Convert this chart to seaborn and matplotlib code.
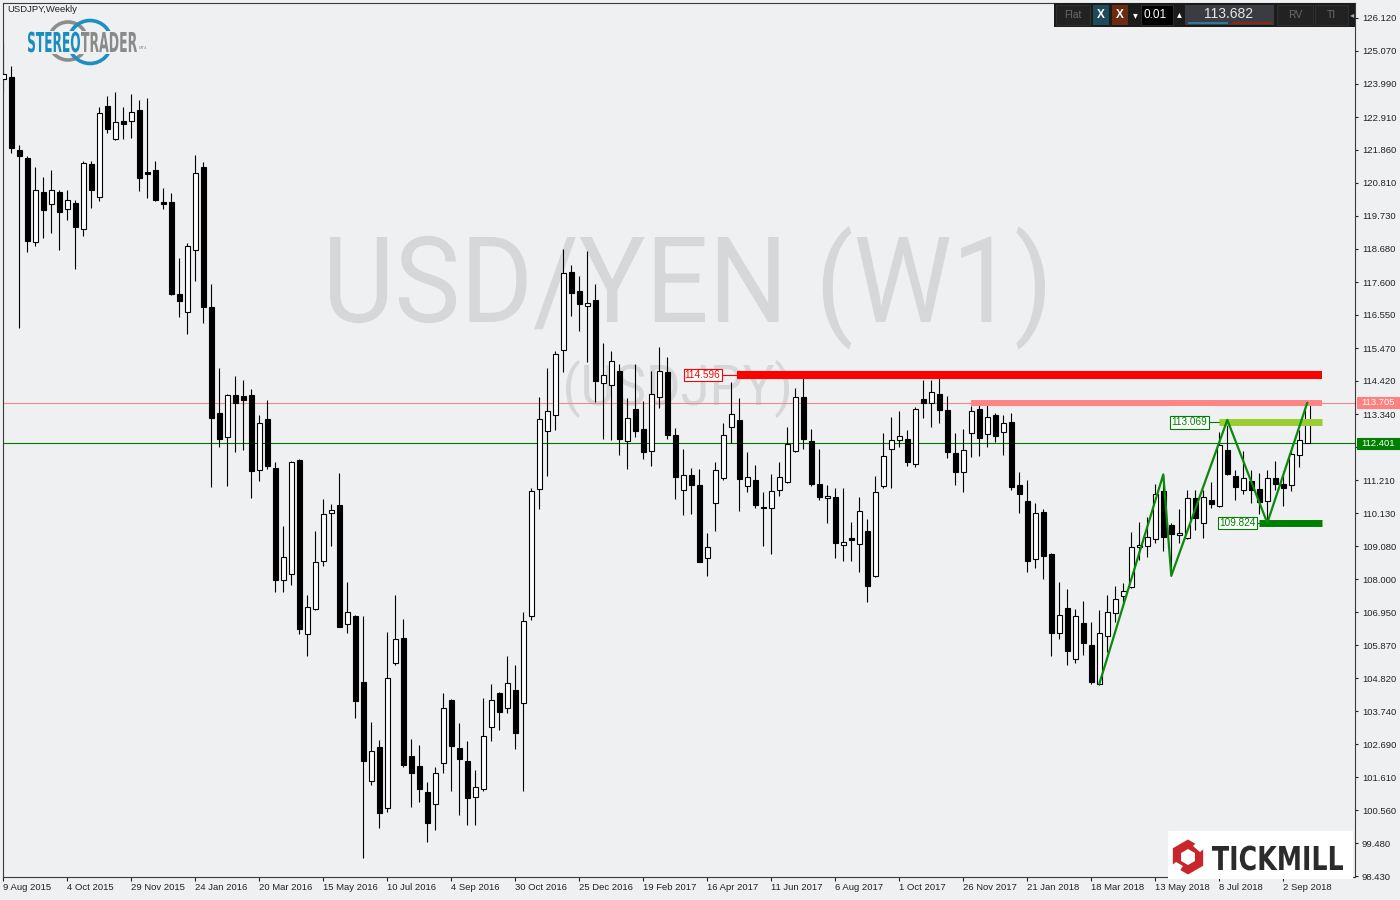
import numpy as np
import matplotlib
matplotlib.use("Agg")
import matplotlib.pyplot as plt
import seaborn as sns
from matplotlib.patches import Rectangle, PathPatch, Circle, RegularPolygon, Polygon
from matplotlib.textpath import TextPath
from matplotlib.font_manager import FontProperties
from matplotlib.transforms import Affine2D

# weekly USDJPY candles, week of 9 Aug 2015 .. week of 23 Sep 2018
opens = [124.15, 124.21, 121.86, 121.60, 118.90, 120.49, 120.11, 120.49, 119.95, 120.15,
         119.32, 121.40, 120.33, 123.27, 122.21, 122.80, 122.79, 123.15, 121.14, 121.22,
         120.18, 120.18, 117.21, 116.64, 118.62, 121.32, 116.80, 113.36, 112.59, 113.95,
         113.92, 113.95, 111.52, 113.17, 111.59, 107.97, 108.17, 111.86, 106.23, 107.05,
         108.60, 110.14, 110.40, 106.55, 106.82, 104.68, 101.51, 102.59, 100.62, 105.31,
         106.11, 102.30, 101.97, 101.13, 100.74, 102.07, 104.11, 102.55, 102.14, 100.97,
         101.23, 103.23, 104.33, 103.84, 104.42, 104.02, 106.83, 110.91, 112.78, 113.30,
         115.39, 117.91, 117.30, 116.84, 117.01, 114.33, 114.27, 114.73, 112.46, 113.50,
         112.86, 112.14, 113.88, 114.70, 112.66, 110.88, 111.36, 111.04, 108.68, 110.48,
         111.26, 112.91, 113.14, 111.01, 111.21, 110.35, 110.30, 110.88, 111.14, 112.14,
         113.89, 112.47, 111.08, 110.62, 110.65, 109.10, 109.34, 109.13, 109.55, 108.10,
         111.01, 112.20, 112.49, 112.52, 111.74, 113.81, 113.70, 113.99, 113.46, 112.07,
         111.46, 112.72, 113.49, 112.68, 113.30, 112.75, 113.07, 111.04, 110.52, 108.65,
         110.17, 108.81, 106.26, 107.07, 105.42, 106.59, 105.88, 104.63, 106.17, 106.91,
         107.47, 107.75, 109.05, 109.08, 109.29, 110.85, 109.75, 109.43, 109.33, 110.62,
         109.81, 110.55, 110.38, 112.18, 111.34, 110.89, 111.18, 110.92, 110.54, 111.26,
         111.07, 111.04, 112.01, 112.40]
highs = [125.31, 124.57, 122.02, 121.67, 121.32, 121.00, 121.22, 120.56, 120.57, 120.25,
         121.52, 121.52, 123.24, 123.61, 123.73, 123.25, 123.68, 123.48, 123.54, 121.50,
         120.63, 120.47, 118.37, 118.86, 121.70, 121.48, 117.54, 114.84, 113.99, 114.58,
         114.44, 114.15, 113.31, 113.79, 111.79, 109.73, 111.82, 111.89, 107.50, 109.57,
         110.60, 110.43, 111.43, 107.92, 106.85, 106.82, 103.39, 102.82, 106.30, 107.50,
         106.72, 102.85, 102.66, 101.47, 101.95, 104.33, 104.14, 103.37, 102.79, 101.85,
         104.17, 104.63, 104.36, 105.53, 105.24, 106.95, 110.95, 113.89, 114.83, 115.36,
         118.66, 118.16, 117.79, 118.60, 117.53, 115.63, 115.37, 114.95, 113.86, 114.95,
         113.76, 114.73, 115.50, 115.18, 112.88, 112.21, 111.60, 111.57, 109.50, 111.80,
         113.04, 114.38, 113.85, 112.11, 111.69, 110.82, 111.40, 111.79, 112.92, 114.17,
         114.50, 112.85, 112.21, 111.06, 110.95, 110.95, 109.85, 110.66, 109.94, 111.34,
         112.72, 113.24, 113.44, 112.83, 113.57, 114.44, 114.44, 114.73, 113.92, 112.73,
         112.86, 113.60, 113.76, 113.63, 113.36, 113.30, 113.36, 111.47, 111.20, 110.46,
         110.27, 108.86, 107.92, 107.69, 107.05, 107.31, 106.63, 107.02, 107.50, 107.79,
         107.87, 109.53, 109.85, 110.03, 111.07, 111.39, 109.83, 110.28, 110.89, 110.89,
         110.89, 111.14, 112.77, 113.15, 111.53, 112.14, 111.53, 111.45, 111.53, 111.83,
         111.50, 112.18, 112.82, 113.705]
lows = [123.74, 121.76, 116.13, 118.58, 118.76, 119.02, 119.18, 118.64, 119.60, 118.02,
        119.10, 120.00, 120.23, 122.42, 122.18, 122.21, 122.26, 120.54, 120.32, 120.23,
        119.97, 117.18, 116.48, 115.93, 117.64, 116.27, 110.97, 112.28, 111.03, 112.12,
        112.18, 110.64, 111.19, 111.58, 107.58, 107.61, 107.83, 106.24, 105.54, 107.03,
        108.44, 109.09, 106.46, 106.26, 103.54, 99.00, 101.38, 99.99, 100.49, 105.25,
        101.96, 100.67, 100.83, 99.54, 99.92, 101.75, 101.18, 100.41, 100.08, 100.08,
        101.18, 102.80, 103.15, 103.70, 102.54, 101.18, 106.70, 110.27, 111.35, 112.83,
        114.71, 116.51, 116.03, 115.03, 113.73, 112.53, 112.50, 112.02, 111.58, 112.61,
        111.90, 111.67, 113.54, 112.54, 110.60, 110.09, 110.12, 108.55, 108.12, 109.57,
        111.20, 112.42, 110.22, 110.82, 110.32, 109.09, 108.81, 110.70, 111.10, 112.10,
        112.21, 111.03, 110.56, 109.83, 108.70, 108.60, 108.61, 108.25, 107.28, 108.08,
        110.95, 110.96, 112.29, 111.67, 111.64, 113.22, 112.93, 113.06, 111.93, 111.06,
        110.83, 111.96, 111.99, 112.29, 112.45, 112.03, 110.90, 110.15, 108.25, 108.38,
        108.02, 105.54, 106.09, 105.23, 105.31, 105.57, 104.62, 104.61, 105.65, 106.62,
        107.23, 107.72, 108.64, 108.74, 109.17, 108.93, 108.12, 109.19, 109.30, 109.60,
        109.35, 110.30, 110.35, 111.36, 110.57, 110.75, 110.46, 110.10, 109.82, 110.89,
        110.37, 110.85, 111.64, 112.40]
closes = [124.31, 121.91, 121.68, 118.93, 120.56, 119.93, 120.56, 119.87, 120.24, 119.39,
          121.44, 120.57, 123.04, 122.55, 122.75, 122.71, 123.08, 120.97, 121.10, 120.25,
          120.13, 117.20, 117.00, 118.75, 121.11, 116.78, 113.20, 112.54, 113.94, 113.70,
          113.80, 111.51, 113.04, 111.66, 107.99, 108.71, 111.79, 106.41, 107.10, 108.55,
          110.10, 110.23, 106.48, 106.94, 104.09, 102.15, 102.45, 100.47, 104.81, 106.07,
          102.01, 101.76, 101.25, 100.15, 101.77, 103.84, 102.64, 102.22, 100.96, 101.29,
          102.94, 104.10, 103.73, 104.65, 103.06, 106.65, 110.86, 113.17, 113.43, 115.27,
          117.88, 117.26, 116.90, 116.91, 114.41, 114.59, 115.04, 112.54, 113.20, 112.80,
          112.12, 113.98, 114.72, 112.67, 111.32, 111.36, 111.06, 108.57, 109.04, 111.52,
          112.65, 113.33, 111.25, 111.31, 110.41, 110.32, 110.84, 111.31, 112.38, 113.88,
          112.52, 111.09, 110.67, 110.70, 109.17, 109.21, 109.28, 110.22, 107.80, 110.81,
          111.98, 112.49, 112.62, 111.80, 113.49, 113.70, 114.04, 113.48, 112.12, 111.48,
          112.17, 113.43, 112.57, 113.23, 112.64, 113.04, 110.99, 110.77, 108.61, 110.13,
          108.77, 106.28, 106.84, 105.70, 106.81, 105.96, 104.70, 106.26, 106.94, 107.37,
          107.62, 109.04, 109.12, 109.37, 110.75, 109.38, 109.48, 109.49, 110.62, 109.97,
          110.67, 110.44, 112.34, 111.41, 110.99, 111.26, 110.90, 110.50, 111.26, 111.07,
          110.94, 112.04, 112.50, 113.682]

date_labels = ["9 Aug 2015", "4 Oct 2015", "29 Nov 2015", "24 Jan 2016", "20 Mar 2016",
               "15 May 2016", "10 Jul 2016", "4 Sep 2016", "30 Oct 2016", "25 Dec 2016",
               "19 Feb 2017", "16 Apr 2017", "11 Jun 2017", "6 Aug 2017", "1 Oct 2017",
               "26 Nov 2017", "21 Jan 2018", "18 Mar 2018", "13 May 2018", "8 Jul 2018",
               "2 Sep 2018"]
price_ticks = [126.120, 125.070, 123.990, 122.910, 121.860, 120.810, 119.730, 118.680,
               117.600, 116.550, 115.470, 114.420, 113.340, 112.290, 111.210, 110.130,
               109.080, 108.000, 106.950, 105.870, 104.820, 103.740, 102.690, 101.610,
               100.560, 99.480, 98.430]

ask_price = 113.705
line_price = 112.401
toolbar_price = "113.682"

# horizontal zones: price, first candle index
level_prices = [114.596, 113.705, 113.069, 109.824]
level_start = [91.7, 121.0, 151.96, 156.96]
level_labels = ["114.596", None, "113.069", "109.824"]

zigzag_idx = [137, 145, 146, 153, 158, 163]
zigzag_price = [104.63, 111.39, 108.12, 113.15, 109.824, 113.705]

BG = "#eff0f2"
W, H = 1400, 900

sns.set_style("white", {"axes.facecolor": BG, "figure.facecolor": BG,
                        "axes.edgecolor": "#3a3a3a"})
plt.rcParams["font.family"] = ["Liberation Sans", "DejaVu Sans"]


def path_text(axis, s, x_left, x_right, y_base, cap, color, weight="normal", z=3,
              family="DejaVu Sans"):
    """Draw s as a filled path stretched to a given width and cap height (pixel axes)."""
    fp = FontProperties(family=family, weight=weight)
    tp = TextPath((0, 0), s, size=100, prop=fp)
    ext = tp.get_extents()
    cap_h = TextPath((0, 0), "H", size=100, prop=fp).get_extents().height
    sx = (x_right - x_left) / ext.width
    sy = cap / cap_h
    tr = Affine2D().translate(-ext.x0, 0).scale(sx, -sy).translate(x_left, y_base)
    axis.add_patch(PathPatch(tr.transform_path(tp), fc=color, ec="none", lw=0, zorder=z))


fig = plt.figure(figsize=(14, 9), dpi=100)

# background layer in pixel units (watermark)
bg = fig.add_axes([0, 0, 1, 1], label="bg", zorder=0)
bg.set_xlim(0, W)
bg.set_ylim(H, 0)
bg.axis("off")
path_text(bg, "USD/YEN (W1)", 330, 1045, 322, 85, "#d5d7d9", family="Roboto")
path_text(bg, "(USDJPY)", 566, 789, 405, 40, "#d5d7d9", family="Roboto")

# main price panel
ax = fig.add_axes([2.5 / W, 1 - 877 / H, (1355 - 2.5) / W, (877 - 3) / H], label="main", zorder=1)
ax.set_facecolor("none")

o = np.array(opens)
hi = np.array(highs)
lo = np.array(lows)
c = np.array(closes)
x = np.arange(len(o))
up = c >= o
body_bottom = np.minimum(o, c)
body_h = np.maximum(np.abs(c - o), 0.03)

ax.vlines(x, lo, hi, color="black", lw=0.8, zorder=2)
ax.bar(x[up], body_h[up], bottom=body_bottom[up], width=0.62, color="white",
       edgecolor="black", linewidth=0.8, zorder=3)
ax.bar(x[~up], body_h[~up], bottom=body_bottom[~up], width=0.62, color="black",
       edgecolor="black", linewidth=0.8, zorder=3)

# 8 px per weekly bar, first bar at 3.3 px
ax.set_xlim((2.5 - 3.3) / 8, (1355 - 3.3) / 8)
ax.set_ylim(98.398, 126.604)

ax.axhline(ask_price, color="#f08a8a", lw=0.8, zorder=1)
ax.axhline(line_price, color="#007800", lw=0.8, zorder=1)

band_end = 164.84
band_colors = ["#ff0000", "#ff8585", "#9acd32", "#008000"]
band_width = [5.8, 4.3, 5.0, 5.0]
label_colors = ["#ff0000", None, "#008000", "#008000"]
label_gap = [1.9, 0, 1.3, 0.3]
for p, s0, lab, col, lw, lcol, gap in zip(level_prices, level_start, level_labels, band_colors,
                                         band_width, label_colors, label_gap):
    ax.plot([s0, band_end], [p, p], color=col, lw=lw, solid_capstyle="butt", zorder=4)
    if lab is not None:
        ax.plot([s0 - gap, s0], [p, p], color=lcol, lw=0.8, zorder=4)
        ax.text(s0 - gap - 0.15, p, lab, ha="right", va="center", color=lcol, fontsize=7.2,
                zorder=6, bbox=dict(boxstyle="square,pad=0.12", fc="white", ec=lcol, lw=0.8))

sns.lineplot(x=zigzag_idx, y=zigzag_price, ax=ax, color="#0a8a0a", lw=1.6, sort=False,
             estimator=None, zorder=5)

ax.yaxis.tick_right()
ax.set_yticks(price_ticks)
ax.set_yticklabels([f"{p:.3f}" for p in price_ticks])
ax.tick_params(axis="y", direction="out", length=2.5, width=0.8, pad=2.5, labelsize=6.8,
               colors="#222222", right=True, left=False)
ax.set_xticks(np.arange(0, 8 * len(date_labels), 8))
ax.set_xticklabels(date_labels, ha="left")
ax.tick_params(axis="x", direction="out", length=2.9, width=0.8, pad=1.2, labelsize=6.8,
               colors="#222222", bottom=True)
ax.set_xlabel("")
ax.set_ylabel("")
for sp in ax.spines.values():
    sp.set_visible(True)
    sp.set_color("#3a3a3a")
    sp.set_linewidth(0.8)

# overlay in pixel units: labels, toolbar, logos
ov = fig.add_axes([0, 0, 1, 1], label="overlay", zorder=2)
ov.set_xlim(0, W)
ov.set_ylim(H, 0)
ov.axis("off")
ov.patch.set_alpha(0)


def px_y(price):
    return H - ax.transData.transform((0, price))[1]


for p, fc in [(ask_price, "#ff8080"), (line_price, "#008000")]:
    yy = px_y(p)
    ov.add_patch(Rectangle((1357, yy - 5.5), 43, 11, fc=fc, ec=fc, lw=0.8, zorder=5))
    ov.text(1361, yy, f"{p:.3f}", ha="left", va="center", color="white", fontsize=6.8, zorder=6)

ov.text(7, 10, "USDJPY,Weekly", ha="left", va="center", fontsize=6.8, color="#222222")

# StereoTrader logo
ov.add_patch(Circle((68, 41), 19, fc="none", ec="#8d8d8d", lw=2.6))
ov.add_patch(Circle((90, 42), 21.5, fc="none", ec="#1b8ec2", lw=2.6))
ov.add_patch(Rectangle((25, 30.5), 125, 23, fc=BG, ec="none", zorder=2))
path_text(ov, "STEREO", 28, 80, 52, 20, "#1a8cc0", weight="bold")
path_text(ov, "TRADER", 81, 137, 52, 20, "#8a8a8a", weight="bold")
ov.text(139, 48, "MT4", fontsize=3, color="#8a8a8a", va="center", ha="left")

# Tickmill logo
ov.add_patch(Rectangle((1168, 831), 185, 48, fc="white", ec="none", zorder=3))
ov.add_patch(RegularPolygon((1188, 857), numVertices=6, radius=17.5, orientation=0,
                            fc="#c9252c", ec="none", zorder=4))
ov.add_patch(RegularPolygon((1188, 857), numVertices=6, radius=8, orientation=0,
                            fc="white", ec="none", zorder=5))
ov.add_patch(Polygon([(1193, 846), (1197, 842), (1205, 848), (1200, 852)], fc="white",
                     ec="none", zorder=5))
ov.add_patch(Polygon([(1176, 862), (1183, 866), (1179, 872), (1171, 866)], fc="white",
                     ec="none", zorder=5))
path_text(ov, "TICKMILL", 1212, 1343, 870, 24, "#2b2b2b", weight="bold", z=5)

# StereoTrader toolbar
ov.add_patch(Rectangle((1054, 3), 301, 24, fc="#1b1b1b", ec="none", zorder=3))
ov.add_patch(Rectangle((1056, 5), 34, 20, fc="#222222", ec="#333333", lw=0.6, zorder=4))
ov.text(1073, 15, "Flat", ha="center", va="center", fontsize=7.5, color="#6a6a6a", zorder=5)
ov.add_patch(Rectangle((1093, 5), 16, 20, fc="#1e4b5c", ec="none", zorder=4))
ov.text(1101, 15, "X", ha="center", va="center", fontsize=8.5, color="white",
        weight="bold", zorder=5)
ov.add_patch(Rectangle((1112, 5), 16, 20, fc="#6b2b12", ec="none", zorder=4))
ov.text(1120, 15, "X", ha="center", va="center", fontsize=8.5, color="white",
        weight="bold", zorder=5)
ov.text(1135, 15, "\u25be", ha="center", va="center", fontsize=7, color="white", zorder=5,
        family="DejaVu Sans")
ov.add_patch(Rectangle((1141, 5), 32, 20, fc="black", ec="#333333", lw=0.6, zorder=4))
ov.text(1144, 15, "0.01", ha="left", va="center", fontsize=8.5, color="white", zorder=5)
ov.text(1179, 14, "\u25b4", ha="center", va="center", fontsize=7, color="white", zorder=5,
        family="DejaVu Sans")
ov.add_patch(Rectangle((1185, 5), 89, 20, fc="#3b3b42", ec="none", zorder=4))
ov.text(1229, 13.5, toolbar_price, ha="center", va="center", fontsize=10, color="#e6e6e6",
        zorder=5)
ov.add_patch(Rectangle((1188, 22), 40, 1.6, fc="#2b7b9c", ec="none", zorder=5))
ov.add_patch(Rectangle((1232, 22), 40, 1.6, fc="#8a2b10", ec="none", zorder=5))
ov.add_patch(Rectangle((1277, 5), 36, 20, fc="#222222", ec="#333333", lw=0.6, zorder=4))
ov.text(1295, 15, "RV", ha="center", va="center", fontsize=7.5, color="#6a6a6a", zorder=5)
ov.add_patch(Rectangle((1315, 5), 33, 20, fc="#222222", ec="#333333", lw=0.6, zorder=4))
ov.text(1331, 15, "TI", ha="center", va="center", fontsize=7.5, color="#6a6a6a", zorder=5)
ov.text(1352, 15, "\u25c2", ha="center", va="center", fontsize=6, color="#aaaaaa", zorder=5,
        family="DejaVu Sans")

fig.savefig("out.png", dpi=100, facecolor=BG)
